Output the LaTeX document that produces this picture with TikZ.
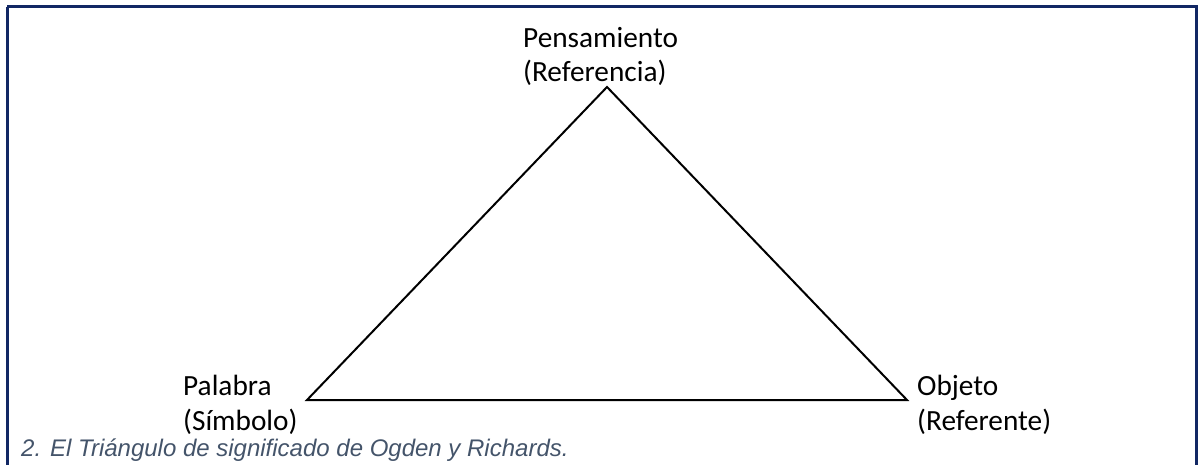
\documentclass[tikz,border=0pt]{standalone}
\usepackage{fontspec}
\setmainfont{Carlito}
\newfontfamily\capfont{Liberation Sans}
\definecolor{frameblue}{RGB}{18,40,100}
\definecolor{capgray}{RGB}{68,84,106}
\begin{document}
\begin{tikzpicture}[x=1pt,y=-1pt,
  lbl/.style={anchor=base west,inner sep=0pt,font=\fontsize{29.3}{35}\selectfont,align=left},
  edge/.style={line width=2pt,line join=miter},
  frame/.style={draw=frameblue,line width=3pt}]
\useasboundingbox (0,0) rectangle (1198,465);
\draw[frame] (7,7) -- (1196,7) -- (1196,480) (7,7) -- (7,480);
\coordinate (top) at (607,87);
\coordinate (left) at (307,400);
\coordinate (right) at (907,400);
\draw[edge] (top) -- (right) -- (left) -- cycle;
\node[lbl] (ptop) at (523,48) {Pensamiento};
\node[lbl] (ptop2) at (523,82) {(Referencia)};
\node[lbl] (pleft) at (183,395) {Palabra};
\node[lbl] (pleft2) at (183,430) {(Símbolo)};
\node[lbl] (pright) at (917,395) {Objeto};
\node[lbl] (pright2) at (917,430) {(Referente)};
\node[anchor=base west,inner sep=0pt,text=capgray,font=\capfont\itshape\fontsize{24}{28}\selectfont] (cap) at (21,456) {2. El Triángulo de significado de Ogden y Richards.};
\end{tikzpicture}
\end{document}
